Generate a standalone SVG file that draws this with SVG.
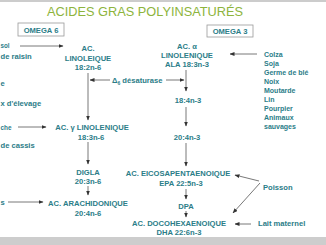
<svg xmlns="http://www.w3.org/2000/svg" width="326" height="245" viewBox="0 0 326 245">
<defs>
<marker id="ah" markerUnits="userSpaceOnUse" markerWidth="5" markerHeight="4" refX="4.5" refY="2" orient="auto">
<path d="M0,0 L5,2 L0,4 Z" fill="#333"/>
</marker>
<style>
.t{font-family:"Liberation Sans",Arial,sans-serif;font-weight:bold;font-size:7.6px;fill:#2b7d88}
.s{font-family:"Liberation Sans",Arial,sans-serif;font-weight:bold;font-size:7px;fill:#2b7d88}
.m{text-anchor:middle}
.c{stroke:#555;stroke-width:0.8;fill:none;marker-end:url(#ah)}
.box{fill:#fff;stroke:#999;stroke-width:0.8}
</style>
</defs>
<rect width="326" height="245" fill="#fff"/>
<line x1="0" y1="1" x2="326" y2="1" stroke="#9a9a9a" stroke-width="1.2"/>
<rect x="0" y="237" width="326" height="8" fill="#cdcdcd"/>
<text x="145" y="16" text-anchor="middle" textLength="196" lengthAdjust="spacingAndGlyphs" style="font-family:'Liberation Sans',Arial,sans-serif;font-size:13px;fill:#8db43c">ACIDES GRAS POLYINSATURÉS</text>

<g id="omega6"><rect class="box" x="18" y="23" width="46" height="13"/><text class="t m" x="41" y="32.5">OMEGA 6</text></g>
<g id="omega3"><rect class="box" x="207" y="25" width="46" height="12"/><text class="t m" x="230" y="34">OMEGA 3</text></g>

<g id="sources6">
<text class="t" x="0.5" y="47.5" textLength="9" lengthAdjust="spacingAndGlyphs">sol</text>
<text class="t" x="0.5" y="59">de raisin</text>
<text class="t" x="0.5" y="86">e</text>
<text class="t" x="0.5" y="106">x d'élevage</text>
<text class="t" x="0.5" y="130" textLength="11" lengthAdjust="spacingAndGlyphs">che</text>
<text class="t" x="0.5" y="148">de cassis</text>
<text class="t" x="0.5" y="205">s</text>
</g>

<g id="la"><text class="t m" x="88" y="51">AC.</text><text class="t m" x="88" y="61">LINOLEIQUE</text><text class="t m" x="88" y="70">18:2n-6</text></g>
<g id="desat"><text class="t" x="112" y="83">Δ<tspan font-size="5" dy="1.5">6</tspan><tspan dy="-1.5"> désaturase</tspan></text></g>
<g id="gla"><text class="t m" x="92" y="130">AC. γ LINOLENIQUE</text><text class="t m" x="91" y="140">18:3n-6</text></g>
<g id="digla"><text class="t m" x="88" y="175">DIGLA</text><text class="t m" x="88" y="184">20:3n-6</text></g>
<g id="aa"><text class="t m" x="88" y="206">AC. ARACHIDONIQUE</text><text class="t m" x="88" y="216">20:4n-6</text></g>

<g id="ala"><text class="t m" x="187" y="49">AC. α</text><text class="t m" x="187" y="58">LINOLENIQUE</text><text class="t m" x="187" y="67">ALA 18:3n-3</text></g>
<g id="n184"><text class="t m" x="188" y="103">18:4n-3</text></g>
<g id="n204"><text class="t m" x="187" y="140">20:4n-3</text></g>
<g id="epa"><text class="t m" x="178" y="176">AC. EICOSAPENTAENOIQUE</text><text class="t m" x="181" y="186">EPA 22:5n-3</text></g>
<g id="dpa"><text class="t m" x="186" y="209">DPA</text></g>
<g id="dha"><text class="t m" x="179" y="226">AC. DOCOHEXAENOIQUE</text><text class="t m" x="179" y="235">DHA 22:6n-3</text></g>

<g id="sources3">
<text class="s" x="264" y="56.5">Colza</text>
<text class="s" x="264" y="65.5">Soja</text>
<text class="s" x="264" y="74.5">Germe de blé</text>
<text class="s" x="264" y="83.5">Noix</text>
<text class="s" x="264" y="92.5">Moutarde</text>
<text class="s" x="264" y="101.5">Lin</text>
<text class="s" x="264" y="110.5">Pourpier</text>
<text class="s" x="264" y="119.5">Animaux</text>
<text class="s" x="264" y="129">sauvages</text>
</g>
<g id="poisson"><text class="t" x="263" y="189.5">Poisson</text></g>
<g id="lait"><text class="t" x="258" y="226">Lait maternel</text></g>

<g id="connectors">
<line class="c" x1="20" y1="46" x2="63" y2="46"/>
<line class="c" x1="18" y1="127" x2="46" y2="127"/>
<line class="c" x1="8" y1="202" x2="43" y2="202"/>
<line class="c" x1="88" y1="73" x2="88" y2="120"/>
<line class="c" x1="110" y1="80" x2="90" y2="80"/>
<line class="c" x1="166" y1="80" x2="184" y2="80"/>
<line class="c" x1="88" y1="142" x2="88" y2="164"/>
<line class="c" x1="88" y1="186" x2="88" y2="195"/>
<line class="c" x1="186" y1="70" x2="186" y2="91"/>
<line class="c" x1="186" y1="107" x2="186" y2="126"/>
<line class="c" x1="186" y1="143" x2="186" y2="166"/>
<line class="c" x1="186" y1="189" x2="186" y2="199"/>
<line class="c" x1="186" y1="211" x2="186" y2="217"/>
<line class="c" x1="257" y1="54" x2="230" y2="54"/>
<line class="c" x1="259" y1="181" x2="235" y2="175"/>
<line class="c" x1="260" y1="183" x2="233" y2="213"/>
<line class="c" x1="251" y1="224" x2="235" y2="224"/>
</g>
</svg>
